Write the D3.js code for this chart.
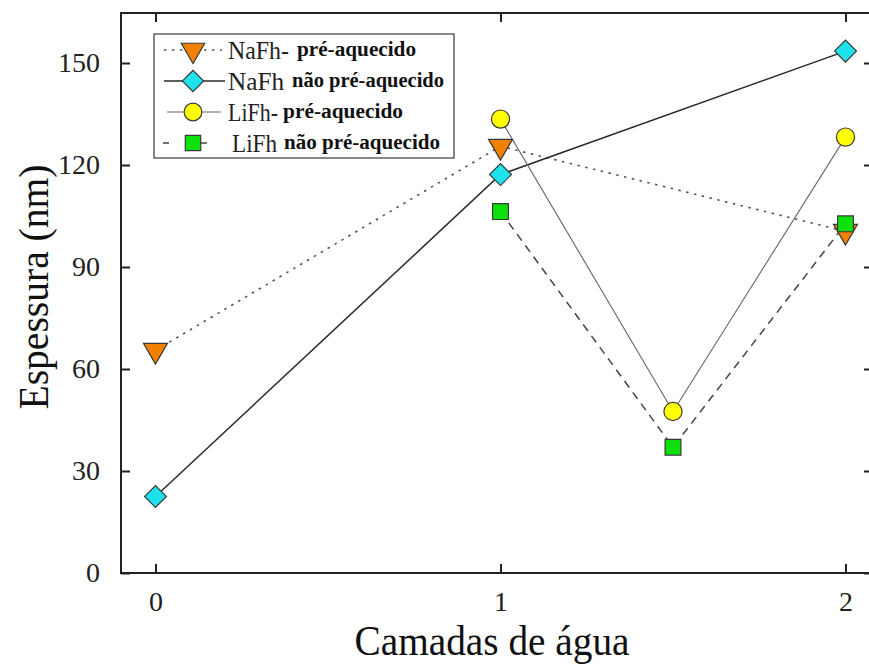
<!DOCTYPE html>
<html>
<head>
<meta charset="utf-8">
<script src="https://cdn.jsdelivr.net/npm/d3@7"></script>
<style>
  html, body { margin: 0; padding: 0; background: #fff; }
  svg { display: block; }
</style>
</head>
<body>
<svg id="chart" width="869" height="664"></svg>
<script>
// Thickness (nm) against number of water layers
const xTicks = [0, 1, 2];
const yTicks = [0, 30, 60, 90, 120, 150];

const naPreX = [0, 1, 2];
const naPreY = [65.5, 125.5, 100.5];

const naNaoX = [0, 1, 2];
const naNaoY = [22.5, 117.2, 153.5];

const liPreX = [1, 1.5, 2];
const liPreY = [133.5, 47.5, 128.2];

const liNaoX = [1, 1.5, 2];
const liNaoY = [106.3, 37.0, 102.7];

const seriesNames = ["NaFh-", "NaFh", "LiFh-", "LiFh"];
const seriesNotes = ["pré-aquecido", "não pré-aquecido", "pré-aquecido", "não pré-aquecido"];

const svg = d3.select("#chart");
const margin = { left: 121, right: 873, top: 13, bottom: 573 };

const x = d3.scaleLinear().domain([0, 2]).range([155.5, 845.5]);
const y = d3.scaleLinear().domain([0, 150]).range([573, 63]);

const serif = "'Liberation Serif', 'Times New Roman', serif";

const series = [
  { xs: naPreX, ys: naPreY, shape: d3.symbolTriangle, rot: 180, size: 250, fill: "#f28100",
    line: { stroke: "#555", width: 1.6, dash: "2.5,5.5" } },
  { xs: naNaoX, ys: naNaoY, shape: d3.symbolSquare, rot: 45, size: 240, fill: "#1fe3ec",
    line: { stroke: "#2a2a2a", width: 1.5, dash: null } },
  { xs: liPreX, ys: liPreY, shape: d3.symbolCircle, rot: 0, size: 260, fill: "#ffff00",
    line: { stroke: "#666", width: 1.1, dash: null } },
  { xs: liNaoX, ys: liNaoY, shape: d3.symbolSquare, rot: 0, size: 250, fill: "#0ee00e",
    line: { stroke: "#444", width: 1.5, dash: "8,6" } }
];

// Connecting lines
const lineGen = d3.line().x(d => x(d[0])).y(d => y(d[1]));
series.forEach(s => {
  const pts = s.xs.map((v, i) => [v, s.ys[i]]);
  svg.append("path")
    .attr("d", lineGen(pts))
    .attr("fill", "none")
    .attr("stroke", s.line.stroke)
    .attr("stroke-width", s.line.width)
    .attr("stroke-dasharray", s.line.dash);
});

// Markers
function drawMarker(g, s, cx, cy) {
  g.append("path")
    .attr("d", d3.symbol().type(s.shape).size(s.size)())
    .attr("transform", `translate(${cx},${cy}) rotate(${s.rot})`)
    .attr("fill", s.fill)
    .attr("stroke", "#3a3a3a")
    .attr("stroke-width", 1.2);
}
series.forEach(s => {
  s.xs.forEach((v, i) => drawMarker(svg, s, x(v), y(s.ys[i])));
});

// Frame
svg.append("rect")
  .attr("x", margin.left).attr("y", margin.top)
  .attr("width", margin.right - margin.left)
  .attr("height", margin.bottom - margin.top)
  .attr("fill", "none").attr("stroke", "#222").attr("stroke-width", 2);

// Axes with inward ticks (mirrored on top and right)
const tickLen = 9;
const axB = svg.append("g").attr("transform", `translate(0,${margin.bottom})`)
  .call(d3.axisBottom(x).tickValues(xTicks).tickSize(-tickLen).tickPadding(18).tickFormat(d3.format("d")));
const axT = svg.append("g").attr("transform", `translate(0,${margin.top})`)
  .call(d3.axisTop(x).tickValues(xTicks).tickSize(-tickLen).tickFormat(""));
const axL = svg.append("g").attr("transform", `translate(${margin.left},0)`)
  .call(d3.axisLeft(y).tickValues(yTicks).tickSize(-tickLen).tickPadding(21));
const axR = svg.append("g").attr("transform", `translate(${margin.right},0)`)
  .call(d3.axisRight(y).tickValues(yTicks).tickSize(-tickLen).tickFormat(""));

[axB, axT, axL, axR].forEach(a => {
  a.select(".domain").remove();
  a.attr("font-size", null).attr("font-family", null);
  a.selectAll(".tick line").attr("stroke", "#222").attr("stroke-width", 2);
  a.selectAll("text")
    .style("font-family", serif).style("font-size", "28px").attr("fill", "#222");
});

// Axis titles
svg.append("text")
  .attr("x", 492).attr("y", 655)
  .attr("text-anchor", "middle")
  .attr("font-family", serif).attr("font-size", 42).attr("fill", "#111")
  .attr("textLength", 275).attr("lengthAdjust", "spacingAndGlyphs")
  .text("Camadas de água");

svg.append("text")
  .attr("transform", "translate(48,287) rotate(-90)")
  .attr("text-anchor", "middle")
  .attr("font-family", serif).attr("font-size", 42).attr("fill", "#111")
  .attr("textLength", 245).attr("lengthAdjust", "spacingAndGlyphs")
  .text("Espessura (nm)");

// Legend
const lg = svg.append("g");
lg.append("rect")
  .attr("x", 154).attr("y", 34).attr("width", 300).attr("height", 124)
  .attr("fill", "#fff").attr("stroke", "#555").attr("stroke-width", 1.4);

const rowY = [50, 81, 112, 143];
const nameX = [228, 228, 228, 232];
const nameW = [61, 56, 50, 45];
const noteX = [297, 292, 283, 284];
const noteW = [119, 152, 120, 156];
const legendLines = [
  { x1: 164, x2: 222 },
  { x1: 164, x2: 225 },
  { x1: 167, x2: 221 },
  { x1: 163, x2: 222 }
];
series.forEach((s, i) => {
  const ly = rowY[i];
  lg.append("line")
    .attr("x1", legendLines[i].x1).attr("x2", legendLines[i].x2)
    .attr("y1", ly).attr("y2", ly)
    .attr("stroke", s.line.stroke)
    .attr("stroke-width", s.line.width)
    .attr("stroke-dasharray", i === 3 ? "6,32" : s.line.dash);
  drawMarker(lg, Object.assign({}, s, { size: s.size * 0.95 }), 193, ly);
  lg.append("text")
    .attr("x", nameX[i]).attr("y", ly + 9)
    .attr("font-family", serif).attr("font-size", 25).attr("fill", "#222")
    .attr("textLength", nameW[i]).attr("lengthAdjust", "spacingAndGlyphs")
    .text(seriesNames[i]);
  lg.append("text")
    .attr("x", noteX[i]).attr("y", ly + 6)
    .attr("font-family", serif).attr("font-size", 20).attr("font-weight", "bold").attr("fill", "#111")
    .attr("textLength", noteW[i]).attr("lengthAdjust", "spacingAndGlyphs")
    .text(seriesNotes[i]);
});
</script>
</body>
</html>
